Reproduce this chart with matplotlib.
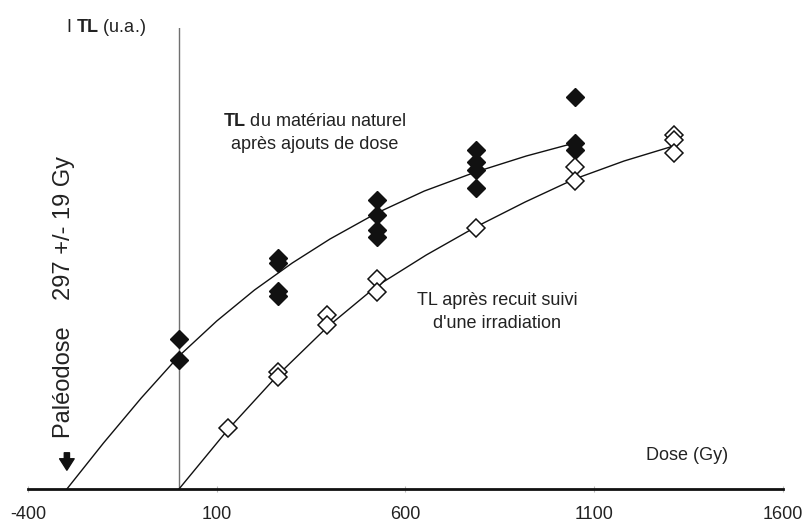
import matplotlib
matplotlib.use("Agg")
import matplotlib.pyplot as plt
from matplotlib import font_manager

available = {f.name for f in font_manager.fontManager.ttflist}
NARROW = "Liberation Sans Narrow" if "Liberation Sans Narrow" in available else "Liberation Sans"
REG = "Liberation Sans"

plt.rcParams["mathtext.fontset"] = "custom"
plt.rcParams["mathtext.rm"] = NARROW
plt.rcParams["mathtext.bf"] = NARROW + ":bold"

# ---- data ----
# TL of natural material after added doses (filled diamonds)
dose_nat = [0, 0, 262, 262, 262, 262, 524, 524, 524, 524, 786, 786, 786, 786, 1048, 1048, 1048]
tl_nat = [150, 129, 231, 226, 198, 193, 289, 274, 259, 252, 339, 327, 319, 301, 392, 346, 339]

# TL after annealing followed by irradiation (open diamonds)
dose_ann = [131, 262, 262, 393, 393, 524, 524, 786, 1048, 1048, 1310, 1310, 1310]
tl_ann = [61, 117, 112, 174, 164, 210, 197, 261, 322, 308, 354, 349, 336]

# fitted growth curves
fit_nat_x = [-297, -200, -100, 0, 100, 200, 300, 400, 524, 650, 786, 920, 1048]
fit_nat_y = [0, 46, 91, 133, 168, 199, 226, 250, 276, 298, 317, 333, 346]
fit_ann_x = [0, 131, 262, 393, 524, 655, 786, 917, 1048, 1179, 1310]
fit_ann_y = [0, 60, 114, 162, 203, 234, 262, 287, 310, 328, 343]

xticks = [-400, 100, 600, 1100, 1600]
paleodose = -297

W, H = 803, 525
fig = plt.figure(figsize=(W / 100, H / 100), dpi=100)
ax = fig.add_axes([28 / W, 36 / H, 755 / W, 461 / H])
ax.set_xlim(-400, 1600)
ax.set_ylim(0, 461)

for s in ["top", "right", "left"]:
    ax.spines[s].set_visible(False)
ax.spines["bottom"].set_linewidth(2.0)
ax.spines["bottom"].set_color("#111111")
ax.set_yticks([])
ax.set_xticks(xticks)
ax.set_xticklabels([str(t) for t in xticks], fontfamily=NARROW, fontsize=13, color="#222222")
ax.tick_params(axis="x", direction="inout", length=5, width=0.8, color="#bbbbbb", pad=10)
ax.get_xticklabels()[-1].set_horizontalalignment("right")
ax.get_xticklabels()[-1].set_x(1600)
labels = ax.get_xticklabels()
labels[-1].set_ha("center")

# vertical axis at dose 0
ax.axvline(0, color="#707070", lw=1.0, zorder=1)

# curves
ax.plot(fit_nat_x, fit_nat_y, color="#111111", lw=1.0, zorder=2)
ax.plot(fit_ann_x, fit_ann_y, color="#111111", lw=1.0, zorder=2)

# points
ax.plot(dose_nat, tl_nat, linestyle="none", marker="D", markersize=9.2,
        markerfacecolor="#111111", markeredgecolor="#111111", zorder=3, clip_on=False)
ax.plot(dose_ann, tl_ann, linestyle="none", marker="D", markersize=9.2,
        markerfacecolor="white", markeredgecolor="#111111", markeredgewidth=1.1, zorder=3, clip_on=False)

tc = "#222222"
ax.text(360, 356, "$\\mathbf{TL}$ du matériau naturel\naprès ajouts de dose", ha="center", va="center",
        multialignment="center", fontfamily=NARROW, fontsize=13, color=tc, linespacing=1.45)
ax.text(842, 177, "TL après recuit suivi\nd'une irradiation", ha="center", va="center",
        multialignment="center", fontfamily=NARROW, fontsize=13, color=tc, linespacing=1.45)
ax.text(1346, 34, "Dose (Gy)", ha="center", va="center", fontfamily=NARROW, fontsize=13, color=tc)
ax.text(-299, 462, "I $\\mathbf{TL}$ (u.a.)", ha="left", va="center", fontfamily=NARROW,
        fontsize=13, color=tc, clip_on=False)
ax.text(-304, 192, "Paléodose    297 +/- 19 Gy", rotation=90, ha="center", va="center",
        fontfamily=REG, fontsize=17, color=tc)

ax.annotate("", xy=(paleodose, 16), xytext=(paleodose, 39),
            arrowprops=dict(arrowstyle="simple,head_length=0.55,head_width=0.7,tail_width=0.25",
                            fc="#111111", ec="#111111", mutation_scale=15))

fig.savefig("out.png", dpi=100)
